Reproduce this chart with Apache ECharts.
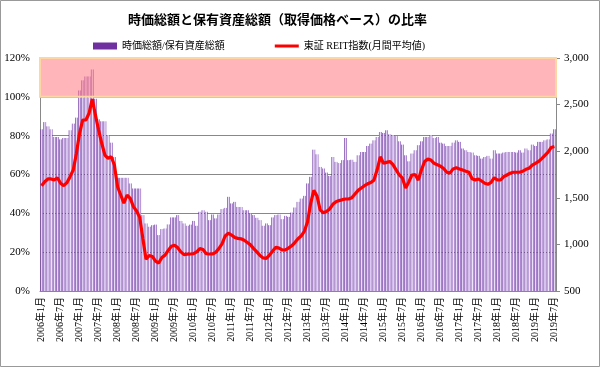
<!DOCTYPE html>
<html><head><meta charset="utf-8">
<script src="https://cdn.jsdelivr.net/npm/echarts@6/dist/echarts.min.js"></script>
<style>html,body{margin:0;padding:0;background:#fff}#c{width:600px;height:367px}</style>
</head><body><div id="c"></div>
<script>
const startYear = 2006, startMonth = 1;
// 時価総額/保有資産総額 (%)
const ratio = [
83.3,87.0,84.8,83.3,79.3,79.3,78.1,78.8,78.8,82.8,86.2,89.3,
103.3,108.5,110.5,110.5,114.1,99.0,88.4,87.4,87.4,80.2,76.4,69.0,
58.3,58.3,58.3,58.3,55.4,52.8,52.8,52.8,39.1,34.8,33.1,33.9,
34.2,28.8,31.9,32.2,34.3,37.9,37.9,39.1,36.1,34.8,33.6,34.2,
36.1,33.6,40.8,41.6,40.8,36.5,39.4,37.4,39.4,42.2,42.8,48.5,
45.1,45.9,43.3,43.3,41.6,41.6,39.9,39.1,37.7,36.5,33.6,34.8,
33.9,37.9,39.1,39.4,37.0,38.7,38.2,40.4,43.0,45.9,47.6,49.0,
55.4,58.8,72.8,70.4,63.9,63.1,61.0,59.3,69.0,66.5,65.9,67.4,
78.8,67.4,67.6,66.5,69.9,71.6,71.6,74.7,75.9,77.6,79.3,81.9,
81.4,82.8,80.7,80.2,79.8,77.1,75.4,69.9,66.8,70.8,72.5,75.1,
77.1,79.3,79.3,80.2,78.8,79.3,76.4,75.9,74.7,74.7,76.4,77.6,
76.8,73.4,72.5,71.6,71.3,69.9,69.6,68.2,69.0,69.6,68.2,72.5,
70.8,70.8,71.3,71.6,71.6,71.6,71.3,72.5,71.3,73.4,72.5,75.4,
74.7,76.8,76.8,77.6,78.1,81.1,83.3
];
// 東証REIT指数(月間平均値)
const reit = [
1630,1673,1702,1702,1691,1716,1656,1630,1662,1727,1798,1977,
2192,2335,2335,2407,2560,2389,2228,2085,1959,1924,1941,1852,
1619,1530,1441,1530,1495,1405,1358,1290,1060,840,880,870,
820,800,860,885,935,980,990,965,920,890,895,897,
900,920,955,945,900,897,897,915,955,1005,1090,1120,
1100,1075,1065,1060,1045,1020,995,955,920,880,855,850,
885,930,970,960,940,940,960,985,1020,1060,1090,1140,
1240,1440,1580,1520,1370,1340,1352,1380,1430,1458,1470,1480,
1487,1487,1500,1540,1580,1605,1630,1650,1665,1690,1800,1940,
1870,1880,1890,1855,1800,1745,1710,1605,1670,1745,1750,1690,
1800,1890,1915,1905,1870,1855,1840,1815,1775,1765,1810,1822,
1810,1798,1785,1774,1705,1691,1702,1680,1656,1645,1666,1716,
1691,1691,1727,1745,1763,1774,1774,1774,1785,1806,1817,1850,
1870,1890,1920,1955,1990,2040,2050
];
const categories = [];
for (let i = 0; i < ratio.length; i++) {
  const y = startYear + Math.floor((startMonth - 1 + i) / 12);
  const m = (startMonth - 1 + i) % 12 + 1;
  categories.push(y + '年' + m + '月');
}
const titleText = '時価総額と保有資産総額（取得価格ベース）の比率';
const seriesNames = ['時価総額/保有資産総額', '東証 REIT指数(月間平均値)'];
const leftRange = [0, 120, 20];
const rightRange = [500, 3000, 500];
const bandRange = [100, 120];

const serif = "'Liberation Serif','Noto Sans CJK JP'";
const chart = echarts.init(document.getElementById('c'), null, {renderer: 'canvas'});
chart.setOption({
  animation: false,
  backgroundColor: '#fff',
  title: {
    text: titleText, left: 123, top: 8,
    textStyle: {fontSize: 13, fontWeight: 'bold', color: '#000', fontFamily: "'Noto Sans CJK JP'"}
  },
  legend: {
    left: 88, top: 36, itemGap: 50, itemWidth: 24, itemHeight: 7,
    textStyle: {fontSize: 10, color: '#000', fontFamily: serif},
    data: [
      {name: seriesNames[0], icon: 'rect', itemStyle: {color: '#7030a0'}},
      {name: seriesNames[1], icon: 'path://M0,0 H24 V3 H0 Z', itemStyle: {color: '#ff0000'}}
    ]
  },
  grid: {left: 40, right: 44, top: 58, bottom: 76},
  graphic: [{
    type: 'rect', shape: {x: 0.5, y: 0.5, width: 599, height: 366},
    style: {fill: 'none', stroke: '#999', lineWidth: 1}, z: 100, silent: true
  }],
  xAxis: {
    type: 'category', data: categories, boundaryGap: true,
    axisLine: {lineStyle: {color: '#888'}},
    axisTick: {show: false},
    axisLabel: {interval: 5, rotate: 90, fontSize: 10, color: '#000', margin: 6, fontFamily: serif}
  },
  yAxis: [{
    type: 'value', min: leftRange[0], max: leftRange[1], interval: leftRange[2],
    axisLine: {show: true, lineStyle: {color: '#888'}},
    axisTick: {show: false},
    axisLabel: {formatter: '{value}%', fontSize: 11, color: '#000', margin: 10, fontFamily: serif},
    splitLine: {show: true, lineStyle: {color: '#888', width: 1}}
  }, {
    type: 'value', min: rightRange[0], max: rightRange[1], interval: rightRange[2], position: 'right',
    axisLine: {show: true, lineStyle: {color: '#888'}},
    axisTick: {show: true, length: 4, lineStyle: {color: '#888'}},
    axisLabel: {formatter: v => v.toLocaleString('en-US'), fontSize: 11, color: '#000', margin: 8, fontFamily: serif},
    splitLine: {show: false}
  }],
  series: [{
    name: seriesNames[0], type: 'bar', yAxisIndex: 0, data: ratio,
    barCategoryGap: '15%',
    itemStyle: {
      color: new echarts.graphic.LinearGradient(0, 0, 1, 0, [
        {offset: 0, color: '#5a1c92'}, {offset: 0.35, color: '#d9c6f1'},
        {offset: 0.65, color: '#efe6fa'}, {offset: 1, color: '#6a2aa4'}
      ])
    },
    markArea: {
      silent: true, z: 5,
      itemStyle: {color: 'rgba(255,120,130,0.55)', borderColor: '#fdd6a6', borderWidth: 2},
      data: [[{yAxis: bandRange[0]}, {yAxis: bandRange[1]}]]
    }
  }, {
    name: seriesNames[1], type: 'line', yAxisIndex: 1, data: reit,
    symbol: 'none', z: 6,
    lineStyle: {color: '#ff0000', width: 3.2},
    itemStyle: {color: '#ff0000'}
  }]
});
</script>
</body></html>
